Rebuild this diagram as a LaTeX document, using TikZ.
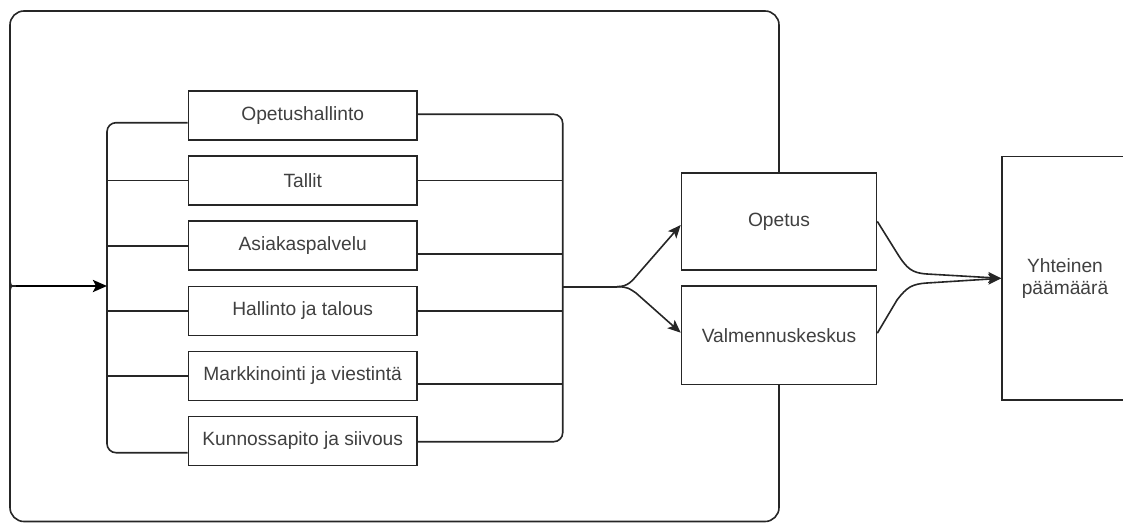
\documentclass[tikz,border=0pt]{standalone}
\usepackage{fontspec}
\setmainfont{Liberation Sans}
\usetikzlibrary{arrows.meta,calc}
\begin{document}
\begin{tikzpicture}[x=1pt,y=-1pt,
  box/.style={draw=black!85,line width=1.6pt,fill=white,inner sep=0pt,
    font=\fontsize{19.2}{23}\selectfont,text=black!75,align=center},
  unit/.style={box,minimum width=228.7pt,minimum height=49pt},
  wire/.style={draw=black!85,line width=1.6pt},
  tip/.style={-{Stealth[length=13pt,width=11pt,inset=3pt]}}]
\useasboundingbox (0,0) rectangle (1123,524);

% departments
\node[unit] (opeh)  at (302.7,115.5) {Opetushallinto};
\node[unit] (tall)  at (302.7,180.6) {Tallit};
\node[unit] (asiak) at (302.7,245.7) {Asiakaspalvelu};
\node[unit] (hall)  at (302.7,310.8) {Hallinto ja talous};
\node[unit] (mark)  at (302.7,375.9) {Markkinointi ja viestintä};
\node[unit] (kunn)  at (302.7,441.0) {Kunnossapito ja siivous};

% units and goal
\node[box,minimum width=195pt,minimum height=97.3pt] (opetus) at (779,221.4) {Opetus};
\node[box,minimum width=195pt,minimum height=98.3pt] (valm) at (779,335.2) {Valmennuskeskus};
\node[box,minimum width=126pt,minimum height=243.3pt] (yht) at (1065,278.3) {Yhteinen\\[-1pt]päämäärä};

% bracket points
\coordinate (lt) at (107,122.7);
\coordinate (lb) at (107,452.7);
\coordinate (lm) at (107,286);
\coordinate (rt) at (562.7,114.3);
\coordinate (rb) at (562.7,441.7);
\coordinate (rm) at (562.7,286.7);
\coordinate (sp) at (617,286.7);
\coordinate (cl) at (16,286);

% left bracket
\draw[wire,rounded corners=9pt] ($(opeh.west)+(0,7.2)$) -- (lt) -- (lb) -- ($(kunn.west)+(0,11.7)$);
\foreach \n in {tall,asiak,hall,mark}
  \draw[wire] (\n.west) -- (\n.west -| lt);

% right bracket
\draw[wire,rounded corners=9pt] ($(opeh.east)+(0,-1.2)$) -- (rt) -- (rb) -- ($(kunn.east)+(0,0.7)$);
\draw[wire] (tall.east) -- (tall.east -| rt);
\draw[wire] ($(asiak.east)+(0,8.3)$) -- ($(asiak.east -| rt)+(0,8.3)$);
\draw[wire] (hall.east) -- (hall.east -| rt);
\draw[wire] ($(mark.east)+(0,8.2)$) -- ($(mark.east -| rt)+(0,8.2)$);

% split towards the two units
\draw[wire] (rm) -- (sp);
\draw[wire,tip] (sp) .. controls (628,286.7) and (632,281) .. (638,274) -- ($(opetus.west)+(0,3.6)$);
\draw[wire,tip] (sp) .. controls (628,286.7) and (630,289) .. (636,293) -- ($(valm.west)+(0,-2.5)$);

% towards the common goal
\draw[wire,tip] (opetus.east) -- (897,253) .. controls (907,269) and (912,273) .. (927,274) -- (yht.west);
\draw[wire,tip] ($(valm.east)+(0,-2)$) -- (897,300) .. controls (907,287) and (912,284) .. (927,283) -- (yht.west);

% feedback loops
\draw[wire] (opetus.north) [rounded corners=14pt] -- (779,11) -- (10,11) -- (10,280)
  [sharp corners] .. controls (10,284.5) and (11.5,286) .. (cl);
\draw[wire] (valm.south) [rounded corners=14pt] -- (779,521.5) -- (10,521.5) -- (10,292)
  [sharp corners] .. controls (10,287.5) and (11.5,286) .. (cl);
\draw[draw=black,line width=2.6pt,-{Stealth[length=14pt,width=12pt,inset=3pt]}] (cl) -- (lm);
\end{tikzpicture}
\end{document}
